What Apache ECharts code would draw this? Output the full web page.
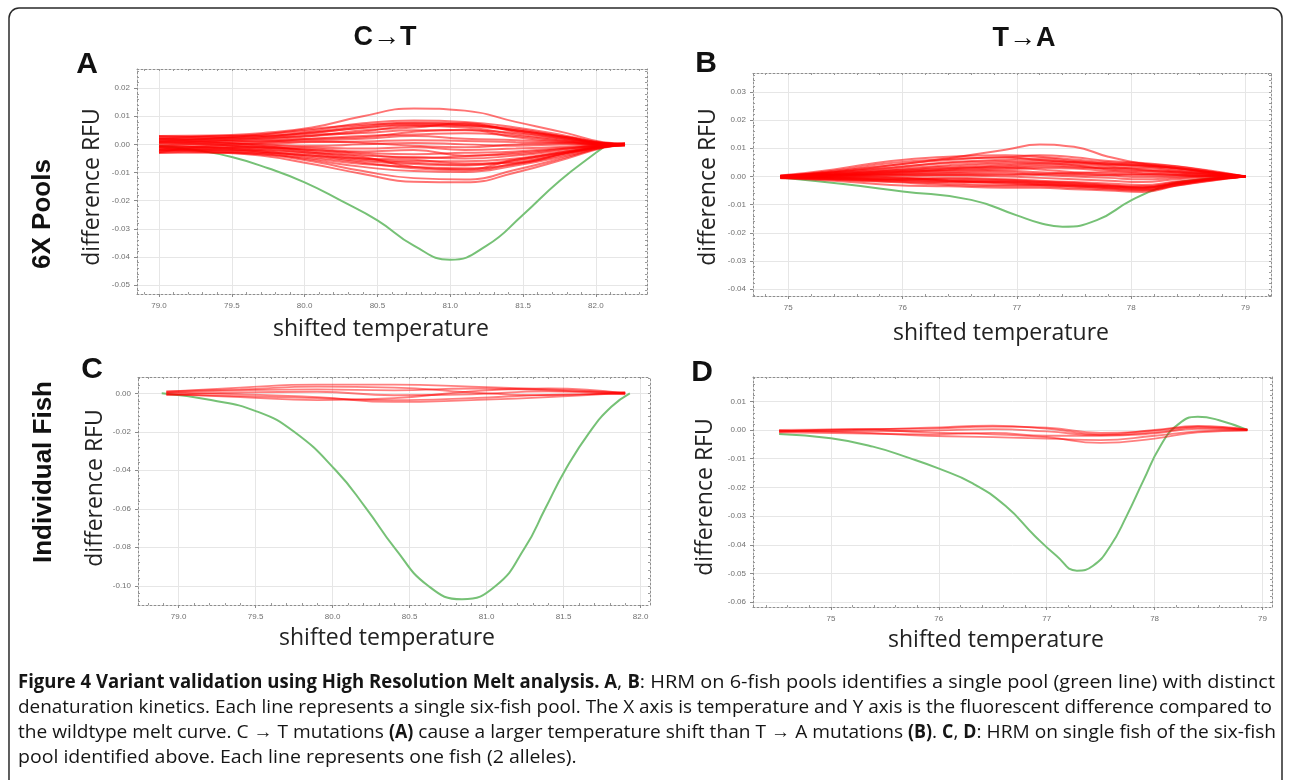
<!DOCTYPE html>
<html><head><meta charset="utf-8">
<script src="https://cdn.jsdelivr.net/npm/echarts@6/dist/echarts.min.js"></script>
<style>html,body{margin:0;padding:0;background:#fff}#c{width:1290px;height:780px}</style>
</head><body><div id="c"></div>
<script>
// ---------------- DATA ----------------
// Panel A (C->T, 6X pools)
const xTicksA = [79.0, 79.5, 80.0, 80.5, 81.0, 81.5, 82.0];
const yTicksA = [0.02, 0.01, 0.00, -0.01, -0.02, -0.03, -0.04, -0.05];
const xRedA = [79.0, 79.35, 79.7, 80.05, 80.4, 80.75, 81.1, 81.45, 81.8, 82.05, 82.2];
const redA = [
 [0.002, 0.003, 0.004, 0.006, 0.010, 0.0128, 0.012, 0.008, 0.004, 0.0008, 0.0003],
 [0.0025, 0.0028, 0.0035, 0.005, 0.0075, 0.0085, 0.008, 0.006, 0.003, 0.0005, 0.0002],
 [0.0015, 0.002, 0.003, 0.004, 0.006, 0.0072, 0.0068, 0.0055, 0.0025, 0.0004, 0.0001],
 [0.003, 0.0025, 0.002, 0.003, 0.005, 0.006, 0.0075, 0.0045, 0.002, 0.0003, 0],
 [0.001, 0.0015, 0.002, 0.0035, 0.004, 0.005, 0.005, 0.004, 0.0018, 0.0002, -0.0002],
 [0.0005, 0.001, 0.0015, 0.002, 0.003, 0.0035, 0.004, 0.003, 0.0012, 0, 0.0001],
 [-0.0005, 0.0005, 0.001, 0.0015, 0.002, 0.003, 0.002, 0.0015, 0.0008, 0, -0.0001],
 [0, 0.0003, 0.0002, 0.0008, 0.001, 0.0015, 0.0012, 0.0008, 0.0004, -0.0002, 0.0002],
 [0.0012, 0.0006, 0, -0.0005, 0, 0.0005, 0, -0.0005, 0, -0.0003, 0],
 [-0.001, -0.0008, -0.0005, -0.001, -0.0015, -0.001, -0.002, -0.0015, -0.0008, -0.0004, -0.0002],
 [-0.002, -0.0015, -0.001, -0.002, -0.003, -0.0035, -0.003, -0.0025, -0.0012, -0.0005, 0.0001],
 [0.002, 0.001, -0.0005, -0.0025, -0.004, -0.0045, -0.005, -0.004, -0.002, -0.0006, -0.0003],
 [-0.0025, -0.002, -0.002, -0.003, -0.005, -0.006, -0.006, -0.005, -0.0025, -0.0007, 0],
 [-0.001, -0.0025, -0.003, -0.004, -0.006, -0.007, -0.0075, -0.006, -0.003, -0.0008, -0.0002],
 [-0.003, -0.003, -0.0035, -0.005, -0.007, -0.008, -0.0085, -0.007, -0.0035, -0.0009, -0.0004],
 [-0.0015, -0.002, -0.003, -0.0055, -0.008, -0.0095, -0.0098, -0.0075, -0.004, -0.001, -0.0001],
 [-0.002, -0.0028, -0.004, -0.007, -0.0105, -0.0133, -0.0135, -0.010, -0.005, -0.0012, -0.0003],
 [-0.003, -0.0025, -0.0035, -0.006, -0.0095, -0.012, -0.0125, -0.009, -0.0045, -0.001, 0],
 [0.003, 0.0032, 0.003, 0.0045, 0.0065, 0.0078, 0.0074, 0.005, 0.0026, 0.0006, 0],
 [-0.0005, -0.0012, -0.0025, -0.004, -0.005, -0.0055, -0.0068, -0.0065, -0.003, -0.0005, 0.0003],
 [0.0018, 0.0022, 0.0025, 0.003, 0.0045, 0.0065, 0.006, 0.0035, 0.0015, 0.0002, -0.0001],
 [-0.0018, -0.0005, 0.0005, 0.001, 0.0005, -0.0005, -0.001, 0, 0.0005, 0.0001, 0.0002],
 [0.0008, 0, -0.001, -0.0015, -0.0025, -0.002, -0.004, -0.0035, -0.0015, -0.0003, -0.0001],
 [-0.0028, -0.0012, -0.0015, -0.003, -0.0045, -0.008, -0.0088, -0.0055, -0.0028, -0.0008, 0.0002],
 [0.001, 0.002, 0.0035, 0.0055, 0.007, 0.0075, 0.007, 0.005, 0.0025, 0.0004, 0],
 [-0.0012, -0.001, -0.002, -0.0035, -0.0055, -0.0065, -0.0072, -0.0055, -0.0025, -0.0006, -0.0002],
 [0.0022, 0.0018, 0.001, 0.002, 0.0025, 0.0045, 0.0052, 0.0025, 0.001, 0.0001, 0.0001],
 [-0.0022, -0.0018, -0.0025, -0.0045, -0.0065, -0.0085, -0.0092, -0.0068, -0.0032, -0.0009, -0.0003],
 [0.0005, 0.0012, 0.0025, 0.0042, 0.0058, 0.0068, 0.0065, 0.0048, 0.0022, 0.0003, 0.0002],
 [-0.0008, -0.0002, -0.0012, -0.002, -0.0035, -0.0048, -0.0042, -0.003, -0.0015, -0.0004, 0]
];
const greenA = [[79.0,-0.0005],[79.25,-0.002],[79.5,-0.0045],[79.75,-0.0085],[80.0,-0.0135],[80.25,-0.020],[80.5,-0.027],[80.75,-0.036],[81.0,-0.041],[81.25,-0.036],[81.5,-0.025],[81.75,-0.013],[82.0,-0.003],[82.08,0]];

// Panel B (T->A, 6X pools)
const xTicksB = [75, 76, 77, 78, 79];
const yTicksB = [0.03, 0.02, 0.01, 0.00, -0.01, -0.02, -0.03, -0.04];
const xRedB = [74.93, 75.4, 75.9, 76.4, 76.9, 77.2, 77.5, 77.8, 78.1, 78.4, 78.7, 79.0];
const redB = [
 [0, 0.0015, 0.004, 0.0065, 0.0095, 0.0113, 0.0105, 0.007, 0.0045, 0.003, 0.0015, 0],
 [0.0003, 0.0025, 0.0055, 0.007, 0.0075, 0.007, 0.006, 0.005, 0.0045, 0.0035, 0.0018, 0.0001],
 [0, 0.0015, 0.003, 0.005, 0.006, 0.0065, 0.0055, 0.0045, 0.004, 0.003, 0.0015, 0],
 [0.0002, 0.001, 0.0025, 0.004, 0.005, 0.0052, 0.0048, 0.004, 0.0035, 0.0025, 0.0012, 0],
 [-0.0002, 0.0008, 0.002, 0.003, 0.0035, 0.004, 0.0035, 0.003, 0.003, 0.002, 0.001, 0],
 [0, 0.0005, 0.0015, 0.002, 0.0025, 0.003, 0.0028, 0.002, 0.0015, 0.001, 0.0005, 0],
 [0.0001, 0.0004, 0.001, 0.0015, 0.002, 0.0015, 0.001, 0.0005, 0.0008, 0.0005, 0.0002, 0],
 [-0.0003, 0, 0.0005, 0.0008, 0.001, 0.0005, 0, -0.0005, -0.001, -0.0005, 0, 0],
 [0, -0.0002, 0, 0.0003, 0, -0.0005, -0.001, -0.0015, -0.002, -0.001, -0.0005, 0],
 [-0.0002, -0.0005, -0.0008, -0.0005, -0.001, -0.0015, -0.002, -0.0025, -0.003, -0.0018, -0.0008, 0],
 [-0.0004, -0.0008, -0.0015, -0.002, -0.002, -0.0025, -0.003, -0.0035, -0.004, -0.0025, -0.001, 0],
 [-0.0005, -0.0012, -0.002, -0.003, -0.0035, -0.0035, -0.004, -0.0045, -0.005, -0.003, -0.0012, 0],
 [-0.0006, -0.0015, -0.003, -0.0035, -0.004, -0.004, -0.0045, -0.005, -0.0055, -0.0032, -0.0014, 0],
 [0.0002, 0.0012, 0.0022, 0.0035, 0.0045, 0.0048, 0.004, 0.0025, 0.002, 0.0015, 0.0008, 0],
 [-0.0001, 0.0006, 0.0012, 0.0025, 0.0032, 0.0025, 0.0015, 0.001, 0.0005, 0.0003, 0.0001, 0],
 [0.0001, 0.0018, 0.004, 0.0058, 0.0068, 0.0058, 0.005, 0.0042, 0.0038, 0.0028, 0.0014, 0],
 [-0.0003, -0.0003, -0.0005, -0.0012, -0.0015, -0.002, -0.0025, -0.0032, -0.0035, -0.002, -0.0008, 0],
 [0, 0.0002, -0.0003, -0.0015, -0.0025, -0.003, -0.0035, -0.004, -0.0045, -0.0028, -0.0011, 0],
 [-0.0002, 0.0003, 0.0008, 0.0012, 0.0015, 0.001, 0.0012, 0.0015, 0.001, 0.0006, 0.0003, 0],
 [0.0002, 0.0009, 0.0018, 0.0028, 0.004, 0.0045, 0.0042, 0.0035, 0.0025, 0.0018, 0.0009, 0],
 [-0.0004, -0.001, -0.0018, -0.0025, -0.003, -0.003, -0.0035, -0.0042, -0.0048, -0.0032, -0.0015, 0],
 [0.0001, 0.002, 0.0048, 0.0062, 0.0068, 0.0075, 0.0068, 0.0055, 0.0048, 0.0036, 0.002, 0],
 [-0.0003, -0.0006, -0.0012, -0.0018, -0.0022, -0.0028, -0.0032, -0.0038, -0.0042, -0.0026, -0.0011, 0],
 [0.0001, 0.0007, 0.0015, 0.0022, 0.003, 0.0035, 0.0032, 0.0028, 0.0022, 0.0014, 0.0006, 0],
 [-0.0001, -0.0004, -0.001, -0.0015, -0.0018, -0.0022, -0.0028, -0.0035, -0.004, -0.0022, -0.0009, 0],
 [0.0003, 0.0014, 0.0032, 0.0048, 0.0055, 0.0058, 0.0052, 0.0046, 0.004, 0.003, 0.0015, 0],
 [-0.0005, -0.0009, -0.0012, -0.0008, -0.0012, -0.0018, -0.0022, -0.003, -0.0038, -0.0024, -0.001, 0],
 [0, 0.0004, 0.0006, 0.0005, 0.0005, 0.0008, 0.0005, 0.0003, -0.0002, -0.0001, 0, 0]
];
const greenB = [[74.93,-0.0004],[75.5,-0.0028],[76.0,-0.0053],[76.6,-0.0083],[77.0,-0.0138],[77.2,-0.0165],[77.4,-0.0178],[77.7,-0.0155],[78.0,-0.0085],[78.25,-0.004],[78.5,-0.0015],[79.0,0]];

// Panel C (C->T, individual fish)
const xTicksC = [79.0, 79.5, 80.0, 80.5, 81.0, 81.5, 82.0];
const yTicksC = [0.00, -0.02, -0.04, -0.06, -0.08, -0.10];
const xRedC = [78.92, 79.4, 79.9, 80.4, 80.9, 81.4, 81.9];
const redC = [
 [0.0008, 0.003, 0.0045, 0.0045, 0.0035, 0.002, 0.0004],
 [0.0002, 0.0015, 0.002, 0.0015, 0.0025, 0.0015, 0.0001],
 [-0.0006, -0.0015, -0.0025, -0.0035, -0.0025, -0.0008, -0.0003],
 [0.0004, -0.0005, -0.002, -0.0045, -0.0035, -0.002, 0.0002],
 [-0.001, 0.0005, 0.0008, -0.001, -0.0005, 0.001, -0.0005],
 [0.001, 0.002, 0.0035, 0.003, 0.0005, -0.001, 0.0006],
 [-0.0004, -0.002, -0.0035, -0.0025, 0.001, 0.0025, 0]
];
const greenC = [[78.89,0],[79.21,-0.0035],[79.51,-0.0095],[79.75,-0.020],[80.02,-0.040],[80.22,-0.060],[80.40,-0.080],[80.62,-0.100],[80.84,-0.107],[81.06,-0.100],[81.25,-0.080],[81.38,-0.060],[81.51,-0.040],[81.67,-0.020],[81.81,-0.007],[81.93,0]];

// Panel D (T->A, individual fish)
const xTicksD = [75, 76, 77, 78, 79];
const yTicksD = [0.01, 0.00, -0.01, -0.02, -0.03, -0.04, -0.05, -0.06];
const xRedD = [74.52, 75.2, 75.9, 76.5, 77.0, 77.5, 78.0, 78.4, 78.86];
const redD = [
 [-0.0005, 0.0003, 0.0005, 0.0012, 0.0008, -0.001, -0.0002, 0.0012, 0.0002],
 [-0.0002, -0.0005, -0.0002, 0.0003, -0.0005, -0.0018, -0.0008, 0.0008, 0],
 [-0.0008, -0.0012, -0.0015, -0.001, -0.002, -0.002, -0.0012, 0.0004, 0.0001],
 [-0.0003, -0.0008, -0.002, -0.0025, -0.003, -0.0035, -0.002, -0.0005, 0],
 [0, 0.0002, -0.0008, -0.0015, -0.0025, -0.0045, -0.003, -0.0008, -0.0002],
 [-0.0006, 0, 0.0008, 0.0015, 0.0005, -0.0015, 0, 0.0014, 0.0001]
];
const greenD = [[74.52,-0.0014],[75.0,-0.0029],[75.39,-0.0058],[75.73,-0.0098],[75.99,-0.0133],[76.31,-0.0185],[76.62,-0.0265],[76.89,-0.0369],[77.09,-0.0438],[77.28,-0.049],[77.43,-0.0473],[77.59,-0.0404],[77.74,-0.030],[77.90,-0.0173],[78.05,-0.0058],[78.21,0.0017],[78.40,0.0046],[78.59,0.0035],[78.86,0]];

// Text
const colTitles = ['C\u2192T', 'T\u2192A'];
const rowTitles = ['6X Pools', 'Individual Fish'];
const panelLetters = ['A', 'B', 'C', 'D'];
const xName = 'shifted temperature';
const yName = 'difference RFU';
const caption = [
 [['Figure 4 Variant validation using High Resolution Melt analysis. ', 1], ['A', 1], [', ', 0], ['B', 1], [': HRM on 6-fish pools identifies a single pool (green line) with distinct', 0]],
 [['denaturation kinetics. Each line represents a single six-fish pool. The X axis is temperature and Y axis is the fluorescent difference compared to', 0]],
 [['the wildtype melt curve. C \u2192 T mutations ', 0], ['(A)', 1], [' cause a larger temperature shift than T \u2192 A mutations ', 0], ['(B)', 1], ['. ', 0], ['C', 1], [', ', 0], ['D', 1], [': HRM on single fish of the six-fish', 0]],
 [['pool identified above. Each line represents one fish (2 alleles).', 0]]
];

// ---------------- LAYOUT ----------------
const panels = [
 {l:137, t:69,  w:510, h:225, xr:[78.849, 82.351], yr:[-0.0532, 0.0268], xt:xTicksA, yt:yTicksA, xd:1, xm:0.1, ym:0.002, xs:xRedA, red:redA, green:greenA, lw:2.0, op:0.55},
 {l:753, t:73,  w:518, h:223, xr:[74.691, 79.224], yr:[-0.0424, 0.0367], xt:xTicksB, yt:yTicksB, xd:0, xm:0.2, ym:0.002, xs:xRedB, red:redB, green:greenB, lw:2.0, op:0.55},
 {l:138, t:377, w:512, h:228, xr:[78.736, 82.061], yr:[-0.110, 0.00847], xt:xTicksC, yt:yTicksC, xd:1, xm:0.1, ym:0.004, xs:xRedC, red:redC, green:greenC, lw:1.8, op:0.5},
 {l:753, t:377, w:519, h:230, xr:[74.278, 79.088], yr:[-0.06167, 0.01847], xt:xTicksD, yt:yTicksD, xd:0, xm:0.2, ym:0.002, xs:xRedD, red:redD, green:greenD, lw:1.8, op:0.5}
];

function minorVals(min, max, step, majors) {
  const out = [];
  for (let k = Math.ceil(min / step - 1e-9); k * step <= max + 1e-12; k++) {
    const v = +(k * step).toFixed(6);
    if (!majors.some(m => Math.abs(m - v) < step / 10)) out.push(v);
  }
  return out;
}

const frameLine = {show: true, onZero: false, lineStyle: {color: '#8e8e8e', width: 1, type: [2, 2]}};
const tickFont = {fontSize: 8, color: '#707070', fontFamily: 'Liberation Sans, Arial, sans-serif'};
const grid = [], xAxis = [], yAxis = [], series = [];

panels.forEach((p, i) => {
  grid.push({left: p.l, top: p.t, width: p.w, height: p.h, containLabel: false, outerBoundsMode: 'none'});
  const xmin = minorVals(p.xr[0], p.xr[1], p.xm, p.xt);
  const ymin = minorVals(p.yr[0], p.yr[1], p.ym, p.yt);
  const base = {gridIndex: i, type: 'value', min: p.xr[0], max: p.xr[1], silent: true};
  xAxis.push(Object.assign({}, base, {position: 'bottom', axisLine: frameLine,
    axisTick: {show: true, customValues: p.xt, length: 3, lineStyle: {color: '#8a8a8a'}},
    axisLabel: Object.assign({show: true, customValues: p.xt, margin: 8, formatter: v => (+v).toFixed(p.xd)}, tickFont),
    splitLine: {show: true, lineStyle: {color: '#e6e6e6', width: 1}}}));
  xAxis.push(Object.assign({}, base, {position: 'top', axisLine: frameLine,
    axisTick: {show: true, inside: true, customValues: p.xt.concat(xmin), length: 2, lineStyle: {color: '#9a9a9a'}},
    axisLabel: {show: false}, splitLine: {show: false}}));
  xAxis.push(Object.assign({}, base, {position: 'bottom', axisLine: {show: false, onZero: false},
    axisTick: {show: true, inside: true, customValues: xmin, length: 2, lineStyle: {color: '#9a9a9a'}},
    axisLabel: {show: false}, splitLine: {show: false}}));
  const ybase = {gridIndex: i, type: 'value', min: p.yr[0], max: p.yr[1], silent: true};
  yAxis.push(Object.assign({}, ybase, {position: 'left', axisLine: frameLine,
    axisTick: {show: true, customValues: p.yt, length: 3, lineStyle: {color: '#8a8a8a'}},
    axisLabel: Object.assign({show: true, customValues: p.yt, margin: 7, formatter: v => (+v).toFixed(2)}, tickFont),
    splitLine: {show: true, lineStyle: {color: '#e6e6e6', width: 1}}}));
  yAxis.push(Object.assign({}, ybase, {position: 'right', axisLine: frameLine,
    axisTick: {show: true, inside: true, customValues: p.yt.concat(ymin), length: 2, lineStyle: {color: '#9a9a9a'}},
    axisLabel: {show: false}, splitLine: {show: false}}));
  yAxis.push(Object.assign({}, ybase, {position: 'left', axisLine: {show: false, onZero: false},
    axisTick: {show: true, inside: true, customValues: ymin, length: 2, lineStyle: {color: '#9a9a9a'}},
    axisLabel: {show: false}, splitLine: {show: false}}));

  series.push({type: 'line', xAxisIndex: 3 * i, yAxisIndex: 3 * i, data: p.green, smooth: 0.5,
    symbol: 'none', silent: true, z: 3, lineStyle: {color: '#76c176', width: 2}});
  p.red.forEach(row => {
    series.push({type: 'line', xAxisIndex: 3 * i, yAxisIndex: 3 * i,
      data: row.map((v, k) => [p.xs[k], v]), smooth: 0.5, symbol: 'none', silent: true, z: 4,
      lineStyle: {color: 'rgba(255,0,0,' + p.op + ')', width: p.lw}});
  });
});

// ---------------- GRAPHICS (text + frame) ----------------
const boldFont = '"Liberation Sans", Arial, sans-serif';
const nameFont = '"Open Sans", "Noto Sans", sans-serif';
function txt(x, y, text, size, weight, family, rot, color) {
  return {type: 'text', x: x, y: y, rotation: rot || 0, silent: true, z: 10,
    style: {text: text, fontSize: size, fontWeight: weight, fontFamily: family, fill: color || '#111',
      align: 'center', verticalAlign: 'middle', textAlign: 'center', textVerticalAlign: 'middle'}};
}
const graphics = [];
graphics.push({type: 'rect', silent: true, z: 0, shape: {x: 9, y: 8, width: 1273, height: 830, r: 10},
  style: {fill: 'none', stroke: '#2a2a2a', lineWidth: 1.5}});
graphics.push(txt(385, 38, colTitles[0], 27, 'bold', boldFont));
graphics.push(txt(1024, 39, colTitles[1], 27, 'bold', boldFont));
graphics.push(txt(43, 214, rowTitles[0], 26, 'bold', boldFont, Math.PI / 2));
graphics.push(txt(44, 472, rowTitles[1], 26, 'bold', boldFont, Math.PI / 2));
const letterPos = [[87, 65], [706, 64], [92, 370], [702, 373]];
panelLetters.forEach((L, i) => graphics.push(txt(letterPos[i][0], letterPos[i][1], L, 30, 'bold', boldFont)));
const yNamePos = [[92, 187], [708, 187], [95, 488], [705, 497]];
const xNamePos = [[381, 329], [1001, 333], [387, 638], [996, 640]];
yNamePos.forEach(p => graphics.push(txt(p[0], p[1], yName, 23, 'normal', nameFont, Math.PI / 2, '#222')));
xNamePos.forEach(p => graphics.push(txt(p[0], p[1], xName, 23, 'normal', nameFont, 0, '#222')));

// caption: lines 1 and 3 end near the right border; the other lines share their average glyph scale
const capFamily = '"Open Sans", "Noto Sans", sans-serif';
const capSize = 19;
const ctx = document.createElement('canvas').getContext('2d');
function runW(text, bold) {
  ctx.font = (bold ? 'bold ' : 'normal ') + capSize + 'px ' + capFamily;
  return ctx.measureText(text).width;
}
const boldRel = 589 / runW(caption[0][0][0], 1);
const regRel = 638 / runW(caption[0][4][0], 0);
const capY = [683, 708, 733, 758];
const naturals = caption.map(segs => segs.reduce((s, g) => s + runW(g[0], g[1]) * (g[1] ? boldRel : regRel), 0));
const fit1 = (1275 - 18) / naturals[0], fit3 = (1276 - 18) / naturals[2];
const common = (fit1 + fit3) / 2;
const fits = [fit1, Math.min(common, (1272 - 18) / naturals[1]), fit3, common];
caption.forEach((segs, i) => {
  let x = 18;
  segs.forEach(g => {
    const sc = (g[1] ? boldRel : regRel) * fits[i];
    graphics.push({type: 'text', x: x, y: capY[i], scaleX: sc, scaleY: 1, silent: true, z: 10,
      style: {text: g[0], fontSize: capSize, fontFamily: capFamily, fontWeight: g[1] ? 'bold' : 'normal',
        fill: '#151515', align: 'left', verticalAlign: 'middle', textAlign: 'left', textVerticalAlign: 'middle'}});
    x += runW(g[0], g[1]) * sc;
  });
});

const chart = echarts.init(document.getElementById('c'), null, {renderer: 'canvas'});
chart.setOption({
  animation: false,
  backgroundColor: '#ffffff',
  grid: grid, xAxis: xAxis, yAxis: yAxis, series: series,
  graphic: {elements: graphics}
});
</script>
</body></html>
